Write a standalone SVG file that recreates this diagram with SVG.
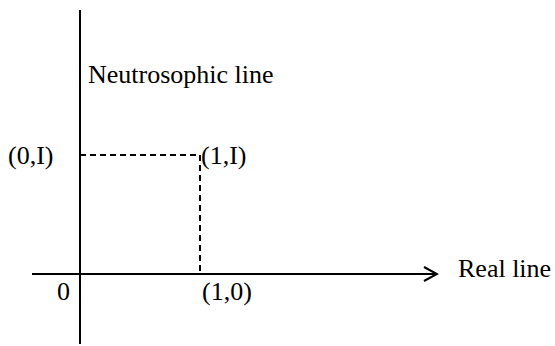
<svg xmlns="http://www.w3.org/2000/svg" width="555" height="346" viewBox="0 0 555 346">
<style>
text{font-family:"Liberation Serif","Times New Roman",serif;font-size:26px;fill:#000}
.axis{stroke:#000;stroke-width:2;fill:none}
.dash{stroke:#000;stroke-width:2;stroke-dasharray:6 4;fill:none}
</style>
<defs>
<marker id="arr" markerWidth="16" markerHeight="18" refX="14" refY="8" orient="auto" markerUnits="userSpaceOnUse">
<path d="M1,1 L14,8 L1,15" fill="none" stroke="#000" stroke-width="2"/>
</marker>
</defs>
<rect width="555" height="346" fill="#fff"/>
<g id="connectors">
<line class="axis" x1="80" y1="10" x2="80" y2="344"/>
<line class="axis" x1="32" y1="274" x2="437" y2="274" marker-end="url(#arr)"/>
<line class="dash" x1="80" y1="155" x2="200" y2="155"/>
<line class="dash" x1="200" y1="155" x2="200" y2="274"/>
</g>
<g id="neutrosophic-line"><text x="88" y="83">Neutrosophic line</text></g>
<g id="real-line"><text x="458" y="277">Real line</text></g>
<g id="p0I"><text x="8" y="164">(0,I)</text></g>
<g id="p1I"><text x="201" y="164">(1,I)</text></g>
<g id="origin"><text x="57" y="300">0</text></g>
<g id="p10"><text x="202" y="300">(1,0)</text></g>
</svg>
